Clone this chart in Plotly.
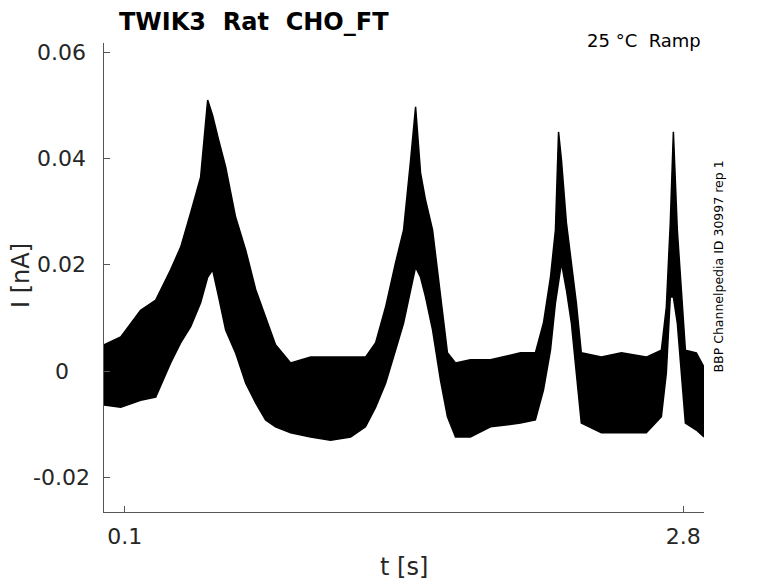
import plotly.graph_objects as go

# ramp sweeps, band of overlaid traces (envelope)
t_s = [0.0, 0.081, 0.177, 0.250, 0.322, 0.371, 0.419, 0.467, 0.501, 0.525,
       0.554, 0.588, 0.636, 0.685, 0.733, 0.781, 0.829, 0.902, 0.999, 1.095,
       1.192, 1.264, 1.313, 1.361, 1.409, 1.448, 1.482, 1.506, 1.530, 1.554,
       1.588, 1.626, 1.660, 1.699, 1.771, 1.868, 2.013, 2.085, 2.124, 2.158,
       2.182, 2.197, 2.211, 2.235, 2.259, 2.283, 2.307, 2.404, 2.501, 2.621,
       2.694, 2.718, 2.737, 2.752, 2.771, 2.790, 2.810, 2.863, 2.900]
i_upper = [0.0050, 0.0065, 0.0115, 0.0134, 0.0191, 0.0234, 0.0298, 0.0365, 0.0510, 0.0481,
           0.0435, 0.0384, 0.0290, 0.0228, 0.0154, 0.0102, 0.0050, 0.0016, 0.0027, 0.0027,
           0.0027, 0.0027, 0.0054, 0.0121, 0.0204, 0.0266, 0.0397, 0.0497, 0.0373, 0.0322,
           0.0266, 0.0140, 0.0035, 0.0016, 0.0022, 0.0022, 0.0035, 0.0035, 0.0091, 0.0177,
           0.0266, 0.0450, 0.0397, 0.0279, 0.0204, 0.0129, 0.0035, 0.0027, 0.0035, 0.0027,
           0.0040, 0.0121, 0.0279, 0.0450, 0.0266, 0.0153, 0.0040, 0.0035, 0.0008]
i_lower = [-0.0063, -0.0067, -0.0054, -0.0048, 0.0016, 0.0054, 0.0084, 0.0129, 0.0177, 0.0191,
           0.0140, 0.0078, 0.0035, -0.0022, -0.0059, -0.0091, -0.0104, -0.0115, -0.0123, -0.0129,
           -0.0123, -0.0104, -0.0067, -0.0022, 0.0040, 0.0091, 0.0153, 0.0196, 0.0177, 0.0140,
           0.0078, -0.0016, -0.0085, -0.0123, -0.0123, -0.0104, -0.0097, -0.0091, -0.0035, 0.0040,
           0.0129, 0.0172, 0.0204, 0.0153, 0.0091, -0.0003, -0.0097, -0.0115, -0.0115, -0.0115,
           -0.0085, -0.0003, 0.0140, 0.0140, 0.0091, -0.0003, -0.0097, -0.0110, -0.0123]

x_ticks = [0.1, 2.8]
y_ticks = [-0.02, 0, 0.02, 0.04, 0.06]
y_tick_text = ["-0.02", "0", "0.02", "0.04", "0.06"]

FONT = "DejaVu Sans"
PAD = 8  # browser body margin around the plot div
W, H = 778 - PAD, 583 - PAD
L, R, T, B = 104 - PAD, 74, 43 - PAD, 71
pw, ph = W - L - R, H - T - B


# page pixel -> paper coords
def px(x):
    return (x - PAD - L) / pw


def py(y):
    return (H - B - (y - PAD)) / ph


fig = go.Figure()
fig.add_trace(go.Scatter(x=t_s, y=i_lower, mode="lines",
                         line=dict(color="black", width=1.5), showlegend=False))
fig.add_trace(go.Scatter(x=t_s, y=i_upper, mode="lines", fill="tonexty",
                         fillcolor="black", line=dict(color="black", width=1.5),
                         showlegend=False))

# y tick labels (centred, as in the original)
for v, s in zip(y_ticks, y_tick_text):
    fig.add_annotation(x=px(62), xref="paper", y=v, yref="y", text=s,
                       showarrow=False, xanchor="center", yanchor="middle",
                       font=dict(family=FONT, size=22, color="#262626"))

nb = "\u00a0"
fig.add_annotation(x=px(117), y=py(22), xref="paper", yref="paper",
                   text=f"<b>TWIK3{nb}{nb}Rat{nb}{nb}CHO_FT</b>", showarrow=False,
                   xanchor="left", yanchor="middle",
                   font=dict(family=FONT, size=24, color="black"))
fig.add_annotation(x=px(703), y=py(41), xref="paper", yref="paper",
                   text=f"25{nb}°C{nb}{nb}Ramp", showarrow=False,
                   xanchor="right", yanchor="middle",
                   font=dict(family=FONT, size=18, color="black"))
fig.add_annotation(x=px(718), y=py(266.5), xref="paper", yref="paper",
                   text="BBP Channelpedia ID 30997 rep 1", showarrow=False,
                   textangle=-90, xanchor="center", yanchor="middle",
                   font=dict(family=FONT, size=12.5, color="black"))
fig.add_annotation(x=px(21), y=py(276), xref="paper", yref="paper",
                   text="I [nA]", showarrow=False, textangle=-90,
                   xanchor="center", yanchor="middle",
                   font=dict(family=FONT, size=24, color="#262626"))
fig.add_annotation(x=px(404), y=py(567), xref="paper", yref="paper",
                   text="t [s]", showarrow=False,
                   xanchor="center", yanchor="middle",
                   font=dict(family=FONT, size=24, color="#262626"))

fig.update_xaxes(range=[0, 2.9], tickvals=x_ticks, ticktext=["0.1", "2.8"],
                 ticks="inside", ticklen=6, tickcolor="#555555",
                 showline=True, linecolor="#555555", linewidth=1,
                 showgrid=False, zeroline=False, ticklabelstandoff=5,
                 tickfont=dict(family=FONT, size=22, color="#262626"))
fig.update_yaxes(range=[-0.0264, 0.0617], tickvals=y_ticks,
                 showticklabels=False,
                 ticks="inside", ticklen=6, tickcolor="#555555",
                 showline=True, linecolor="#555555", linewidth=1,
                 showgrid=False, zeroline=False)

fig.update_layout(width=W, height=H, margin=dict(l=L, r=R, t=T, b=B),
                  plot_bgcolor="white", paper_bgcolor="white",
                  font=dict(family=FONT))

fig.write_html("out.html")
